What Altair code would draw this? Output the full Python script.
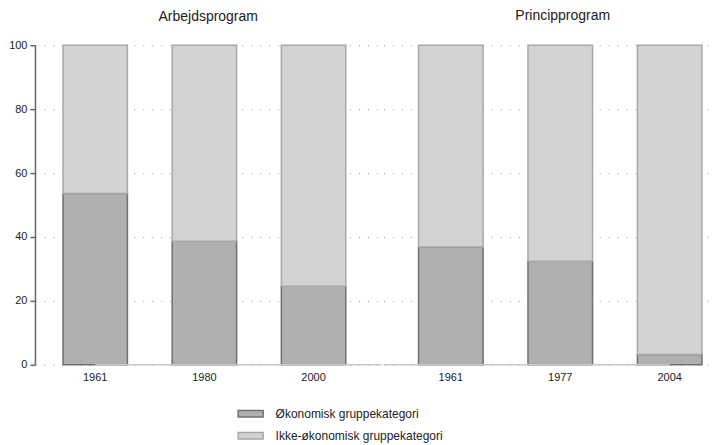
import altair as alt
import pandas as pd

programs = ["Arbejdsprogram"] * 3 + ["Principprogram"] * 3
years = ["1961", "1980", "2000", "1961", "1977", "2004"]
okonomisk = [53.6, 38.7, 24.6, 36.9, 32.4, 3.2]
categories = ["Økonomisk gruppekategori", "Ikke-økonomisk gruppekategori"]
fills = ["#b0b0b0", "#d2d2d2"]
strokes = ["#707070", "#a8a8a8"]

rows = []
for p, y, v in zip(programs, years, okonomisk):
    rows.append({"program": p, "year": y, "cat": categories[0], "value": v, "ord": 0, "zero": 0})
    rows.append({"program": p, "year": y, "cat": categories[1], "value": round(100 - v, 1), "ord": 1, "zero": 0})
df = pd.DataFrame(rows)

color = alt.Color("cat:N", scale=alt.Scale(domain=categories, range=fills),
                  legend=alt.Legend(title=None, orient="none", legendX=205, legendY=358,
                                    direction="vertical",
                                    symbolType="M-1.25,-0.33L1.25,-0.33L1.25,0.33L-1.25,0.33Z",
                                    symbolSize=400, symbolStrokeWidth=1.5, labelOffset=14,
                                    labelFontSize=12, labelFont="Liberation Sans",
                                    labelColor="#222", rowPadding=4, labelLimit=400))
stroke = alt.Stroke("cat:N", scale=alt.Scale(domain=categories, range=strokes), legend=None)


def panel(name, width, po, align, show_axis, dx, dy, left_side):
    sub = df[df.program == name]
    order = list(dict.fromkeys(sub.year))
    xsc = alt.Scale(domain=order, paddingInner=0.41, paddingOuter=po, align=align)
    if show_axis:
        yax = alt.Axis(values=[0, 20, 40, 60, 80, 100], title=None, grid=True,
                       gridDash=[1, 8], gridColor="#999", gridWidth=1,
                       domainColor="#666", domainWidth=1.5, tickColor="#666",
                       tickWidth=1.5, tickSize=5, labelFontSize=11, labelPadding=3,
                       labelFont="Liberation Sans", labelColor="#222")
    else:
        yax = alt.Axis(values=[0, 20, 40, 60, 80, 100], title=None, grid=True,
                       gridDash=[1, 8], gridColor="#999", gridWidth=1,
                       labels=False, ticks=False, domain=False)
    xenc = alt.X("year:N", scale=xsc, sort=order,
                 axis=alt.Axis(title=None, labelAngle=0, ticks=False, domain=False,
                               labelFontSize=11, labelFont="Liberation Sans",
                               labelColor="#222", labelPadding=7, labelAlign="center",
                               bandPosition=0.5))
    yenc = alt.Y("value:Q", stack="zero", scale=alt.Scale(domain=[0, 100], nice=False),
                 axis=yax)
    bars = alt.Chart(sub).mark_bar(strokeWidth=1.5).encode(
        x=xenc, y=yenc, color=color, stroke=stroke, order=alt.Order("ord:Q"),
    )
    edge = order[0] if left_side else order[-1]
    rule = alt.Chart(sub).transform_filter(
        (alt.datum.year == edge) & (alt.datum.ord == 0)
    ).mark_rule(color="#c8c8c8", strokeWidth=1.5).encode(
        x=xenc,
        x2=alt.value(width if left_side else 0),
        y=alt.Y("zero:Q"),
    )
    return alt.layer(bars, rule).properties(
        width=width, height=320,
        title=alt.Title(name, fontSize=14, fontWeight="normal", font="Liberation Sans",
                        color="#222", anchor="middle", offset=14, frame="group",
                        dx=dx, dy=dy),
    )


left = panel("Arbejdsprogram", 347, 0.292, 0.44, True, 0, -1.5, True)
right = panel("Principprogram", 331, 0.215, 0.745, False, 14, -7.5, False)

chart = alt.hconcat(left, right, spacing=0).properties(
    padding={"left": 0, "top": 0, "right": 0, "bottom": 0}
).configure_view(stroke=None)

chart.save("out.html", embed_options={"renderer": "svg", "actions": False})
